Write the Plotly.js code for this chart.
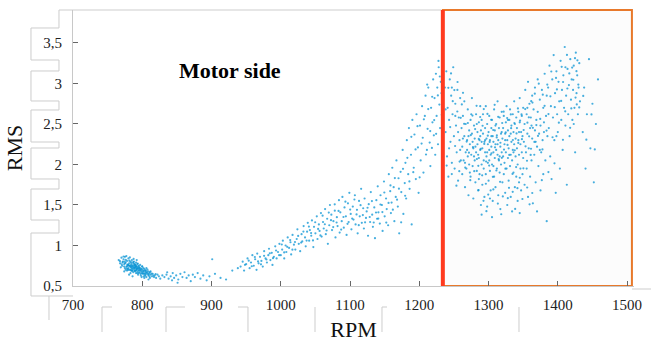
<!DOCTYPE html>
<html>
<head>
<meta charset="utf-8">
<script src="https://cdn.plot.ly/plotly-3.0.1.min.js"></script>
<style>html,body{margin:0;padding:0;background:#fff;}#chart{width:651px;height:342px;}</style>
</head>
<body>
<div id="chart"></div>
<script>
// ---- data: [RPM, RMS] pairs ----
const idlePts = [[766,0.82],[768,0.78],[770,0.85],[771,0.75],[772,0.80],[773,0.83],[774,0.77],[775,0.72],[775,0.86],[776,0.79],[777,0.74],[778,0.81],[778,0.69],[779,0.76],[780,0.84],[780,0.72],[781,0.78],[782,0.70],[782,0.75],[783,0.80],[783,0.66],[784,0.73],[784,0.77],[785,0.82],[785,0.69],[786,0.74],[786,0.71],[787,0.78],[787,0.67],[788,0.75],[788,0.80],[789,0.72],[789,0.69],[790,0.76],[790,0.73],[791,0.79],[791,0.66],[792,0.71],[792,0.74],[793,0.68],[793,0.77],[794,0.72],[794,0.64],[795,0.70],[795,0.75],[796,0.67],[796,0.73],[797,0.69],[798,0.71],[798,0.63],[799,0.66],[800,0.70],[800,0.74],[801,0.65],[802,0.68],[802,0.62],[803,0.71],[804,0.66],[805,0.64],[805,0.69],[806,0.61],[807,0.67],[808,0.65],[809,0.63],[810,0.66],[811,0.60],[812,0.64],[814,0.62],[815,0.65],[817,0.61],[818,0.63],[820,0.60],[822,0.64],[824,0.62],[826,0.59],[829,0.63],[769,0.73],[774,0.68],[777,0.87],[781,0.64],[786,0.62],[790,0.69],[792,0.82],[797,0.76],[799,0.61],[803,0.60],[806,0.72],[809,0.58],[812,0.68],[779,0.71],[783,0.75],[787,0.73],[788,0.71],[791,0.74],[784,0.79],[789,0.77],[795,0.66],[780,0.76],[776,0.70],[793,0.72]];

const idleExtraPts = [[771.5,0.792],[773.8,0.741],[776.2,0.823],[778.6,0.764],[779.9,0.698],[781.3,0.813],[782.7,0.737],[784.1,0.688],[785.6,0.756],[786.9,0.794],[788.3,0.727],[789.4,0.682],[790.8,0.751],[792.2,0.705],[793.5,0.778],[794.9,0.688],[796.3,0.724],[797.6,0.652],[799.1,0.713],[800.4,0.678],[801.8,0.721],[803.2,0.646],[804.6,0.694],[806.1,0.658],[807.5,0.703],[809.2,0.641],[811.0,0.672],[813.4,0.652],[816.1,0.628],[819.3,0.647],[770.4,0.768],[772.9,0.864],[775.3,0.781],[777.7,0.717],[780.6,0.749],[783.4,0.702],[786.2,0.686],[788.8,0.763],[791.5,0.717],[794.2,0.742],[797.0,0.701],[799.8,0.742],[802.5,0.689],[805.3,0.676],[808.4,0.682],[767.8,0.806],[774.6,0.802],[782.1,0.853],[787.5,0.834],[792.9,0.658],[798.7,0.683],[804.0,0.625],[810.5,0.617],[785.0,0.718],[789.9,0.741],[795.6,0.716],[778.1,0.744],[784.8,0.745],[791.1,0.694],[801.1,0.658]];

const tailPts = [[832,0.61],[835,0.64],[838,0.59],[841,0.62],[844,0.66],[846,0.60],[849,0.63],[852,0.58],[855,0.65],[858,0.61],[861,0.67],[864,0.60],[867,0.63],[870,0.56],[873,0.64],[876,0.61],[880,0.66],[884,0.59],[888,0.63],[893,0.57],[897,0.62],[901,0.83],[905,0.65],[913,0.60],[921,0.58],[930,0.69],[938,0.72],[851,0.54],[836,0.67],[843,0.57]];

const rampPts = [[942,0.74],[945,0.80],[947,0.69],[950,0.77],[952,0.84],[955,0.72],[957,0.79],[959,0.88],
[961,0.75],[963,0.83],[965,0.70],[966,0.90],[968,0.78],[970,0.86],[972,0.81],[974,0.74],[976,0.93],[978,0.84],
[980,0.79],[982,0.88],[983,0.96],[985,0.82],[987,0.91],[988,0.76],[990,0.86],[992,0.99],[994,0.84],[996,0.92],[998,1.02],
[1000,0.88],[1002,0.95],[1003,1.06],[1005,0.84],[1007,1.00],[1008,0.92],[1010,1.10],[1012,0.97],[1014,1.04],[1015,0.89],[1017,1.13],[1019,1.01],
[1021,0.95],[1023,1.08],[1024,1.20],[1026,1.02],[1028,0.93],[1030,1.14],[1031,1.05],[1033,1.24],[1035,1.10],[1036,0.99],[1038,1.17],[1039,1.28],
[1041,1.06],[1042,1.19],[1044,1.12],[1045,1.31],[1047,0.98],[1048,1.23],[1050,1.15],[1052,1.36],[1053,1.08],[1055,1.26],[1056,1.18],[1058,1.40],[1059,1.11],
[1061,1.29],[1062,1.21],[1064,1.45],[1065,1.14],[1067,1.33],[1068,1.02],[1070,1.25],[1071,1.50],[1073,1.38],[1074,1.19],[1076,1.30],[1078,1.43],[1079,1.10],
[1081,1.35],[1082,1.24],[1084,1.56],[1085,1.16],[1086,1.41],[1088,1.30],[1089,1.60],[1091,1.22],[1092,1.47],[1094,1.36],[1095,1.13],[1097,1.52],[1098,1.29],[1099,1.65],
[1101,1.39],[1102,1.20],[1104,1.48],[1105,1.32],[1107,1.62],[1108,1.26],[1110,1.44],[1111,1.15],[1113,1.55],[1114,1.36],[1116,1.70],[1117,1.28],[1119,1.46],[1120,1.21],
[1121,1.58],[1123,1.34],[1124,1.42],[1126,1.12],[1127,1.51],[1129,1.29],[1130,1.66],[1132,1.38],[1133,1.23],[1135,1.47],[1136,1.09],[1138,1.56],[1139,1.33],[1140,1.73],
[1141,1.41],[1143,1.27],[1144,1.62],[1146,1.50],[1147,1.18],[1149,1.79],[1150,1.36],[1152,1.58],[1153,1.45],[1155,1.25],[1156,1.88],[1158,1.67],[1159,1.40],[1160,1.53],
[1161,1.96],[1163,1.72],[1164,1.30],[1166,1.60],[1167,2.05],[1169,1.48],[1170,1.83],[1171,1.15],[1173,1.91],[1174,1.66],[1176,2.18],[1177,1.39],[1179,1.77],[1180,2.02],
[1181,1.58],[1182,2.30],[1184,1.88],[1185,2.45],[1186,1.70],[1188,2.12],[1189,1.26],[1190,2.55],[1192,1.96],[1193,2.37],[1195,1.82],[1196,2.62],[1198,2.21],[1199,1.65],
[1201,2.48],[1202,2.05],[1204,2.72],[1205,2.33],[1206,1.90],[1208,2.60],[1209,2.85],[1211,2.18],[1212,2.44],[1213,2.95],[1215,2.27],[1216,1.98],[1217,2.70],[1219,2.52],[1220,3.05],
[1221,2.36],[1222,2.82],[1223,2.12],[1224,3.12],[1225,2.60],[1226,2.95],[1227,2.25],[1228,3.20],[1229,2.74],[1230,2.45],[1231,3.02],[1232,2.88],[1233,2.18],[1234,3.25]];

const rampExtraPts = [[948.3,0.762],[953.7,0.812],[958.1,0.744],[962.6,0.858],[967.2,0.803],[971.4,0.768],[975.9,0.872],[979.3,0.827],[984.1,0.903],[988.8,0.843],[993.2,0.938],[997.6,0.881],[1001.4,1.012],[1004.9,0.915],[1009.3,0.984],[1013.6,1.067],[1016.8,0.948],[1020.5,1.043],[1025.1,1.118],[1029.4,1.036],[1032.7,1.172],[1037.3,1.061],[1040.6,1.234],[1043.8,1.153],[1046.5,1.062],[1049.7,1.287],[1053.9,1.205],[1057.2,1.124],[1060.4,1.368],[1063.6,1.262],[1066.1,1.185],[1069.3,1.406],[1072.5,1.312],[1075.7,1.227],[1077.9,1.508],[1080.6,1.284],[1083.4,1.427],[1087.2,1.196],[1090.5,1.352],[1093.3,1.541],[1096.4,1.268],[1100.2,1.443],[1103.1,1.332],[1106.3,1.568],[1109.4,1.384],[1112.6,1.251],[1115.2,1.498],[1118.5,1.375],[1121.7,1.286],[1125.3,1.466],[1128.4,1.352],[1131.6,1.548],[1134.2,1.284],[1137.5,1.407],[1140.8,1.332],[1143.9,1.506],[1146.7,1.412],[1149.5,1.654],[1152.3,1.283],[1155.6,1.526],[1158.4,1.741],[1161.8,1.442],[1164.7,1.832],[1167.9,1.566],[1170.6,1.702],[1173.8,1.286],[1176.5,1.946],[1179.6,1.614],[1182.8,2.082],[1185.7,1.791],[1188.5,2.342],[1191.3,1.905],[1194.6,2.186],[1197.4,2.473],[1200.5,1.842],[1203.3,2.258],[1206.6,2.557],[1209.7,2.123],[1212.9,2.684],[1215.8,2.412],[1218.6,2.836],[1221.5,2.548],[1224.3,2.378],[1226.8,2.852],[1229.6,3.086],[1232.4,2.614],[1218.2,2.204],[1211.4,2.986],[1227.7,3.278],[1233.5,2.942]];

const clusterPts = [[1237,2.95],[1238,2.40],[1239,3.15],[1240,2.10],[1241,2.70],[1242,1.85],[1243,2.55],[1244,3.05],[1245,2.28],[1246,2.85],[1247,2.02],[1248,2.62],[1249,3.20],[1250,2.35],[1251,1.95],[1252,2.75],[1253,2.48],[1254,2.15],[1255,2.92],[1256,1.80],[1257,2.58],[1258,2.30],[1259,2.82],[1260,2.05],[1238,2.68],[1243,2.20],[1247,2.95],[1252,2.60],[1256,2.40],[1259,2.18],
[1261,2.45],[1262,2.22],[1262,1.88],[1263,2.60],[1264,2.05],[1265,2.35],[1265,2.78],[1266,1.72],[1267,2.15],[1267,2.50],[1268,1.95],[1269,2.30],[1270,2.68],[1270,2.10],[1271,1.62],[1272,2.42],[1272,2.00],[1273,2.25],[1274,2.55],[1274,1.85],[1275,2.12],[1276,2.38],[1276,2.82],[1277,1.98],[1278,2.20],[1278,1.58],[1279,2.48],[1280,2.05],[1280,2.32],[1281,1.78],[1282,2.62],[1282,2.15],[1283,1.92],[1284,2.40],[1284,2.25],[1285,1.68],[1286,2.52],[1286,2.08],[1287,2.30],[1287,1.88],[1288,2.72],[1288,2.18],[1289,1.50],[1289,2.42],[1290,2.00],[1290,2.28],[1263,2.32],[1266,2.02],[1269,2.18],[1271,2.35],[1273,1.90],[1275,2.62],[1277,2.28],[1279,2.10],[1281,2.22],[1283,2.50],[1285,2.12],[1286,1.82],[1288,2.35],[1290,2.55],
[1291,2.20],[1291,1.75],[1292,2.38],[1292,2.62],[1293,2.05],[1293,1.95],[1294,2.28],[1294,1.60],[1295,2.45],[1295,2.15],[1296,2.72],[1296,1.88],[1297,2.32],[1297,2.10],[1298,1.48],[1298,2.50],[1299,2.25],[1299,2.02],[1300,1.80],[1300,2.40],[1301,2.18],[1301,2.60],[1302,1.92],[1302,2.30],[1303,2.12],[1303,1.68],[1304,2.45],[1304,2.22],[1305,2.00],[1305,2.55],[1306,1.55],[1306,2.35],[1307,2.15],[1307,2.28],[1308,1.85],[1308,2.68],[1309,2.42],[1309,2.08],[1310,2.25],[1310,1.72],[1311,2.50],[1311,2.18],[1312,1.95],[1312,2.36],[1313,2.78],[1313,2.12],[1314,1.62],[1314,2.30],[1315,2.45],[1315,2.05],[1316,1.90],[1316,2.58],[1317,2.22],[1317,1.45],[1318,2.38],[1318,2.00],[1319,2.15],[1319,2.65],[1320,1.78],[1320,2.32],[1295,2.30],[1298,2.15],[1301,2.05],[1304,2.35],[1307,1.98],[1310,2.48],[1313,2.25],[1316,2.10],[1319,2.40],[1302,1.58],
[1321,2.45],[1321,2.10],[1322,1.88],[1322,2.60],[1323,2.25],[1323,2.02],[1324,1.65],[1324,2.38],[1325,2.52],[1325,2.15],[1326,1.95],[1326,2.72],[1327,2.30],[1327,1.50],[1328,2.42],[1328,2.08],[1329,2.20],[1329,1.80],[1330,2.55],[1330,2.35],[1331,1.98],[1331,2.68],[1332,2.12],[1332,1.60],[1333,2.48],[1333,2.28],[1334,2.05],[1334,1.42],[1335,2.62],[1335,2.18],[1336,1.90],[1336,2.40],[1337,2.78],[1337,2.25],[1338,1.72],[1338,2.50],[1339,2.10],[1339,2.32],[1340,1.85],[1340,2.58],[1341,2.20],[1341,2.45],[1342,1.55],[1342,2.00],[1343,2.65],[1343,2.30],[1344,2.12],[1344,1.78],[1345,2.52],[1345,2.82],[1346,2.25],[1346,1.95],[1347,2.40],[1347,1.68],[1348,2.60],[1348,2.15],[1349,2.35],[1349,1.88],[1350,2.70],[1350,2.08],[1324,2.30],[1328,2.55],[1332,2.38],[1336,2.15],[1344,2.40],
[1351,2.28],[1352,1.75],[1352,2.50],[1353,2.92],[1354,2.15],[1355,2.62],[1355,1.95],[1356,2.38],[1357,3.02],[1357,1.60],[1358,2.20],[1359,2.75],[1360,2.45],[1360,1.85],[1361,2.58],[1362,2.05],[1363,2.85],[1363,2.32],[1364,1.52],[1365,2.68],[1366,2.12],[1367,2.95],[1367,2.42],[1368,1.78],[1369,2.55],[1370,2.22],[1371,3.05],[1371,2.65],[1372,1.98],[1373,2.38],[1374,2.80],[1375,1.68],[1375,2.48],[1376,2.15],[1377,2.92],[1378,2.30],[1379,1.88],[1379,2.70],[1380,2.52],[1381,3.12],[1382,2.05],[1383,2.60],[1384,1.30],[1384,2.85],[1385,2.35],[1356,2.70],[1362,2.48],[1368,2.28],[1374,2.18],[1380,2.40],
[1386,2.95],[1387,2.45],[1388,3.22],[1389,2.10],[1390,2.72],[1391,1.82],[1392,3.05],[1393,2.58],[1394,3.35],[1395,2.30],[1396,2.88],[1397,1.65],[1398,3.15],[1399,2.62],[1400,2.40],[1401,3.02],[1402,2.78],[1403,1.95],[1404,3.28],[1405,2.55],[1406,2.92],[1407,2.18],[1408,3.10],[1409,2.70],[1410,3.45],[1411,2.48],[1412,2.85],[1413,1.75],[1414,3.18],[1415,2.62],[1416,2.98],[1417,2.35],[1418,3.30],[1419,2.80],[1420,3.05],[1421,2.55],[1422,2.92],[1423,3.22],[1424,2.70],[1425,2.15],[1426,3.38],[1427,2.88],[1428,3.10],[1429,2.62],[1430,2.95],[1431,3.25],[1432,2.78],[1398,2.35],[1411,3.20],[1423,2.50],
[1436,2.40],[1438,2.95],[1440,1.95],[1442,2.62],[1445,3.30],[1447,2.20],[1450,2.75],[1452,1.78],[1455,2.50],[1458,3.05],
[1290,1.38],[1345,1.40],[1370,1.42],[1305,1.35]];

const clusterExtraPts = [[1268.4,2.283],[1271.7,2.146],[1274.3,2.362],[1277.5,2.214],[1280.6,2.437],[1283.2,2.068],[1285.9,2.316],[1288.6,2.192],[1291.4,2.478],[1293.8,2.254],[1296.5,2.037],[1298.9,2.356],[1301.6,2.278],[1304.2,2.138],[1306.7,2.426],[1309.3,2.212],[1311.8,2.334],[1314.6,2.066],[1317.1,2.268],[1319.7,2.512],[1322.3,2.184],[1324.8,2.396],[1327.4,2.242],[1329.9,2.118],[1332.6,2.448],[1335.1,2.302],[1337.8,2.176],[1340.4,2.384],[1342.9,2.266],[1345.5,2.542],[1348.2,2.312],[1350.7,2.426],[1353.4,2.224],[1356.1,2.516],[1358.6,2.348],[1361.3,2.194],[1364.0,2.452],
[1266.3,1.962],[1270.1,2.512],[1273.6,1.806],[1276.8,2.604],[1279.3,1.918],[1282.7,2.724],[1285.2,1.984],[1287.9,2.586],[1290.8,1.866],[1293.1,2.684],[1296.1,1.762],[1298.4,2.624],[1300.9,1.986],[1303.7,2.552],[1306.2,1.848],[1308.8,2.736],[1311.3,1.926],[1313.9,2.588],[1316.6,1.786],[1319.2,2.082],[1321.8,2.652],[1324.3,1.948],[1326.9,2.574],[1329.5,1.712],[1332.1,2.618],[1334.6,1.884],[1337.3,2.512],[1339.8,1.968],[1342.4,2.692],[1345.1,1.836],[1347.6,2.618],[1350.3,1.952],[1352.9,2.684],[1355.5,2.046],[1358.1,2.582],[1360.8,2.118],[1363.4,2.764],[1366.2,2.278],[1369.0,2.486],
[1285.6,1.684],[1292.7,1.552],[1299.5,1.628],[1306.9,1.692],[1313.4,1.518],[1320.6,1.606],[1327.8,1.584],[1334.9,1.662],[1341.7,1.708],[1348.9,1.574],[1355.8,1.716],[1363.1,1.648],[1296.9,1.424],[1318.3,1.386],[1338.4,1.452],[1359.2,1.508],
[1244.6,2.462],[1248.3,2.782],[1251.7,2.228],[1254.9,2.654],[1258.2,2.036],[1261.4,2.742],[1264.7,2.502],[1241.9,2.946],[1245.8,3.124],[1250.6,2.918],[1255.2,3.018],[1259.8,2.576],[1263.1,2.884],[1239.5,1.986],[1246.9,1.882],[1253.6,1.738],[1257.7,1.918],
[1371.4,2.352],[1374.6,2.562],[1377.8,2.186],[1380.9,2.724],[1383.7,2.418],[1386.5,2.622],[1389.3,2.842],[1392.4,2.336],[1395.6,2.708],[1398.7,2.926],[1401.5,2.516],[1404.8,2.784],[1407.6,3.018],[1410.7,2.656],[1413.8,2.938],[1416.6,3.124],[1419.5,2.692],[1422.4,3.046],[1425.6,2.826],[1428.3,3.286],[1430.9,2.704],[1426.9,3.152],[1429.6,2.986],[1427.4,2.742],[1424.8,3.312],[1420.7,3.196],[1413.2,3.352],[1405.6,3.206],[1397.4,3.068],[1390.6,3.148],[1384.8,2.986],[1378.3,2.862],[1372.5,2.998],[1366.8,2.874],[1361.6,2.782],[1395.2,2.014],[1386.4,1.906],[1376.9,1.806],[1407.4,2.304],[1417.8,2.452],[1436.7,2.846],[1441.2,2.306],[1448.6,2.618],[1453.4,2.186]];

const xTickVals = [700, 800, 900, 1000, 1100, 1200, 1300, 1400, 1500];
const xTickText = ['700', '800', '900', '1000', '1100', '1200', '1300', '1400', '1500'];
const yTickVals = [0.5, 1, 1.5, 2, 2.5, 3, 3.5];
const yTickText = ['0,5', '1', '1,5', '2', '2,5', '3', '3,5'];
const markerRpm = 1234;      // red boundary line
const boxEndRpm = 1507;      // right edge of highlighted box

// ---- build trace ----
const allPts = idlePts.concat(idleExtraPts, tailPts, rampPts, rampExtraPts, clusterPts, clusterExtraPts);
const xs = allPts.map(p => p[0]);
const ys = allPts.map(p => p[1]);

// plot area geometry (pixels)
const W = 651, H = 342, L = 73, R = 17, T = 10, B = 56;
const pw = W - L - R, ph = H - T - B;
const px = v => (v - L) / pw;
const py = v => (H - B - v) / ph;
function gline(pts) {
  let d = '';
  pts.forEach((p, i) => { d += (i ? 'L' : 'M') + px(p[0]).toFixed(4) + ',' + py(p[1]).toFixed(4); });
  return {type: 'path', xref: 'paper', yref: 'paper', path: d, line: {color: '#cdcdcd', width: 1}, layer: 'below'};
}

const shapes = [
  {type: 'rect', xref: 'x', yref: 'paper', x0: markerRpm, x1: boxEndRpm, y0: 0, y1: 1,
   fillcolor: '#fcfcfc', line: {color: '#e8792b', width: 2}, layer: 'below'},
  {type: 'line', xref: 'x', yref: 'paper', x0: markerRpm, x1: markerRpm, y0: 0, y1: 1,
   line: {color: '#ff3a1e', width: 4}, layer: 'above'},
  gline([[59, 10], [441, 10]]),
  gline([[59,10],[59,28],[31,28],[31,60],[59,60],[59,71],[31,71],[31,101],[59,101],[59,110],[31,110],[31,142],[59,142],[59,148],[31,148],[31,179],[59,179],[59,189],[31,189],[31,220],[59,220],[59,233],[31,233],[31,296],[73,296]]),
  gline([[49, 296], [49, 320]]),
  gline([[102, 332], [102, 307], [112, 307]]),
  gline([[166, 332], [166, 307], [185, 307]]),
  gline([[238, 307], [248, 307], [248, 332]]),
  gline([[315, 307], [315, 332]]),
  gline([[382, 332], [382, 307], [387, 307]]),
  gline([[519, 307], [519, 332]]),
  gline([[632, 289], [651, 289]])
];

const fontFam = '"Liberation Serif", "Times New Roman", serif';

const data = [{
  type: 'scatter', mode: 'markers', x: xs, y: ys,
  marker: {size: 2.2, color: 'rgba(10,148,212,0.75)', line: {width: 0}},
  hoverinfo: 'skip', showlegend: false
}];

const layout = {
  width: W, height: H,
  margin: {l: L, r: R, t: T, b: B, pad: 0},
  paper_bgcolor: '#ffffff', plot_bgcolor: '#ffffff',
  showlegend: false,
  font: {family: fontFam, color: '#222'},
  xaxis: {
    range: [700, 1510], tickvals: xTickVals, ticktext: xTickText,
    ticks: 'inside', ticklen: 5, tickcolor: '#666', tickwidth: 1,
    showline: true, linecolor: '#c8c8c8', linewidth: 1,
    showgrid: false, zeroline: false, ticklabelstandoff: 5,
    tickfont: {family: fontFam, size: 15, color: '#222'},
    title: {text: 'RPM', font: {family: fontFam, size: 22, color: '#111'}, standoff: 11}
  },
  yaxis: {
    range: [0.5, 3.907], tickvals: yTickVals, ticktext: yTickText,
    ticks: 'inside', ticklen: 5, tickcolor: '#666', tickwidth: 1,
    showline: true, linecolor: '#c8c8c8', linewidth: 1,
    showgrid: false, zeroline: false, ticklabelstandoff: 7,
    tickfont: {family: fontFam, size: 15, color: '#222'},
    title: {text: 'RMS', font: {family: fontFam, size: 22, color: '#111'}, standoff: 14}
  },
  shapes: shapes,
  annotations: [{
    text: '<b>Motor side</b>', xref: 'paper', yref: 'paper',
    x: px(177), y: py(70), xanchor: 'left', yanchor: 'middle', showarrow: false,
    font: {family: fontFam, size: 22, color: '#000'}
  }]
};

Plotly.newPlot('chart', data, layout, {staticPlot: true, displayModeBar: false});
</script>
</body>
</html>
